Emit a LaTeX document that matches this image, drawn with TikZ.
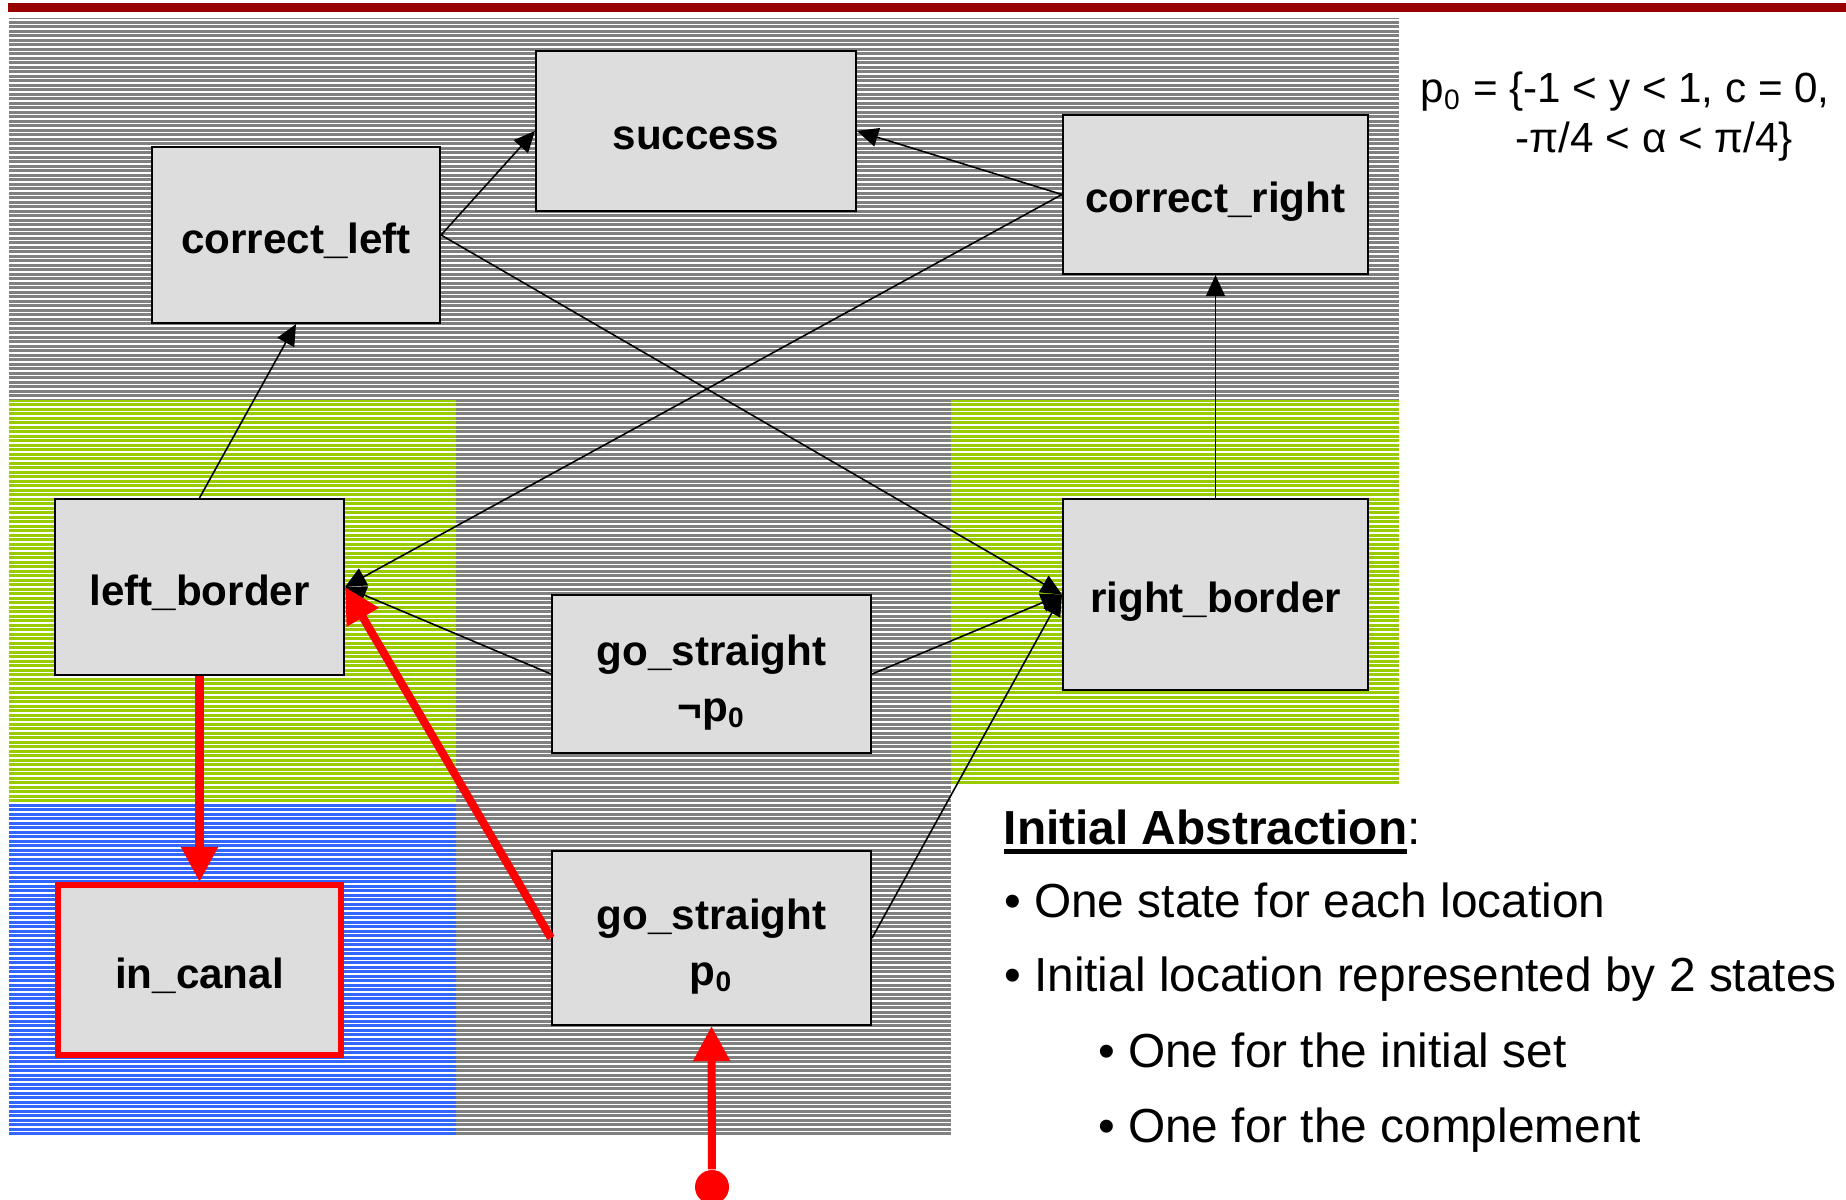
\documentclass[tikz,border=0pt]{standalone}
\usepackage{fontspec}
\setmainfont{Liberation Sans}
\usepackage{tikz}
\usetikzlibrary{arrows.meta, positioning}
\definecolor{barred}{HTML}{990000}
\definecolor{stripegray}{HTML}{808080}
\definecolor{limegreen}{HTML}{99CC00}
\definecolor{canalblue}{HTML}{3366FF}
\definecolor{statefill}{HTML}{DDDDDD}
\definecolor{hotred}{HTML}{FF0000}

% fixed line box so every state label sits at the same height
\newcommand{\vstrut}{\rule[-3pt]{0pt}{16.5pt}}
\newsavebox{\ulbox}
\newcommand{\thickuline}[1]{\sbox{\ulbox}{#1}\rlap{\rule[-2.8pt]{\wd\ulbox}{1.4pt}}\usebox{\ulbox}}

\begin{document}
\begin{tikzpicture}[x=0.1mm, y=-0.1mm,
        state/.style={rectangle, draw=black, fill=statefill, line width=0.6pt, inner sep=0pt, align=center, font=\fontsize{12}{16}\selectfont\bfseries},
        trans/.style={draw, -{Triangle[length=6pt, width=5.4pt]}, line width=0.45pt},
        redtrans/.style={draw=hotred, -{Triangle[length=10pt, width=10pt]}, line width=2.3pt},
        bullet/.style={anchor=base west, inner sep=0pt, font=\fontsize{13.6}{16}\selectfont}]

        \useasboundingbox (0,0) rectangle (1846,1200);
        \clip (0,0) rectangle (1846,1200);

        % Background bands
        \fill [barred] (8,3) rectangle (1846,12);
        \fill [stripegray] (9,18) rectangle (1399,400);
        \fill [limegreen] (9,400) rectangle (456,804);
        \fill [stripegray] (456,400) rectangle (951,1137);
        \fill [limegreen] (951,400) rectangle (1399,785);
        \fill [canalblue] (9,804) rectangle (456,1137);
        \begin{scope}
            \clip (9,18) -- (1399,18) -- (1399,785) -- (951,785) -- (951,1137) -- (9,1137) -- cycle;
            \foreach \y in {20,24.5,...,1140}
                \draw [white, line width=0.3pt] (9,\y) -- (1399,\y);
        \end{scope}

        % States
        \node [state, minimum width=32mm, minimum height=16mm] (success) at (696,131) {\vstrut success};
        \node [state, minimum width=28.8mm, minimum height=17.6mm] (correct_left) at (296,235) {\vstrut correct\_left};
        \node [state, minimum width=30.5mm, minimum height=15.9mm] (correct_right) at (1215.5,194.5) {\vstrut correct\_right};
        \node [state, minimum width=28.9mm, minimum height=17.6mm] (left_border) at (199.5,587) {\vstrut left\_border};
        \node [state, minimum width=30.5mm, minimum height=19.1mm] (right_border) at (1215.5,594.5) {\vstrut right\_border};
        \node [state, minimum width=31.9mm, minimum height=15.8mm] (gons) at (711.5,674) {\vstrut go\_straight\\¬p\textsubscript{0}};
        \node [state, minimum width=31.9mm, minimum height=17.4mm] (gop0) at (711.5,938) {\vstrut go\_straight\\p\textsubscript{0}};
        \node [state, draw=hotred, line width=1.7pt, minimum width=28.3mm, minimum height=17mm] (in_canal) at (199.5,970) {\vstrut in\_canal};
        \node [circle, fill=hotred, inner sep=0pt, minimum size=3.4mm] (init) at (712,1187) {};

        % Transitions
        \path [trans] (left_border.north) -- (correct_left.south);
        \path [trans] (correct_left.east) -- (success.west);
        \path [trans] (correct_right.west) -- (success.east);
        \path [trans] (correct_right.west) -- (left_border.east);
        \path [trans] (correct_left.east) -- (right_border.west);
        \path [trans] (gons.west) -- (left_border.east);
        \path [trans] (gons.east) -- (right_border.west);
        \path [trans] (gop0.east) -- (right_border.west);
        \path [trans] (right_border.north) -- (correct_right.south);

        % Counterexample path in red
        \path [redtrans] (left_border.south) -- (in_canal.north);
        \path [redtrans] (gop0.west) -- (left_border.east);
        \path [redtrans] (init) -- (gop0.south);

        % Initial set and notes
        \node [anchor=base west, inner sep=0pt, font=\fontsize{12}{14}\selectfont] (p0line) at (1420,103) {p\textsubscript{0} = \{-1 < y < 1, c = 0,};
        \node [anchor=base west, inner sep=0pt, font=\fontsize{12}{14}\selectfont] (p0cont) at (1515,152) {-π/4 < α < π/4\}};
        \node [bullet] (abstitle) at (1003,844) {\thickuline{\bfseries Initial Abstraction}:};
        \node [bullet] (pointa) at (1003.5,917) {• One state for each location};
        \node [bullet] (pointb) at (1003.5,991) {• Initial location represented by 2 states};
        \node [bullet] (subpointa) at (1097.5,1067) {• One for the initial set};
        \node [bullet] (subpointb) at (1097.5,1142) {• One for the complement};
    \end{tikzpicture}
\end{document}
